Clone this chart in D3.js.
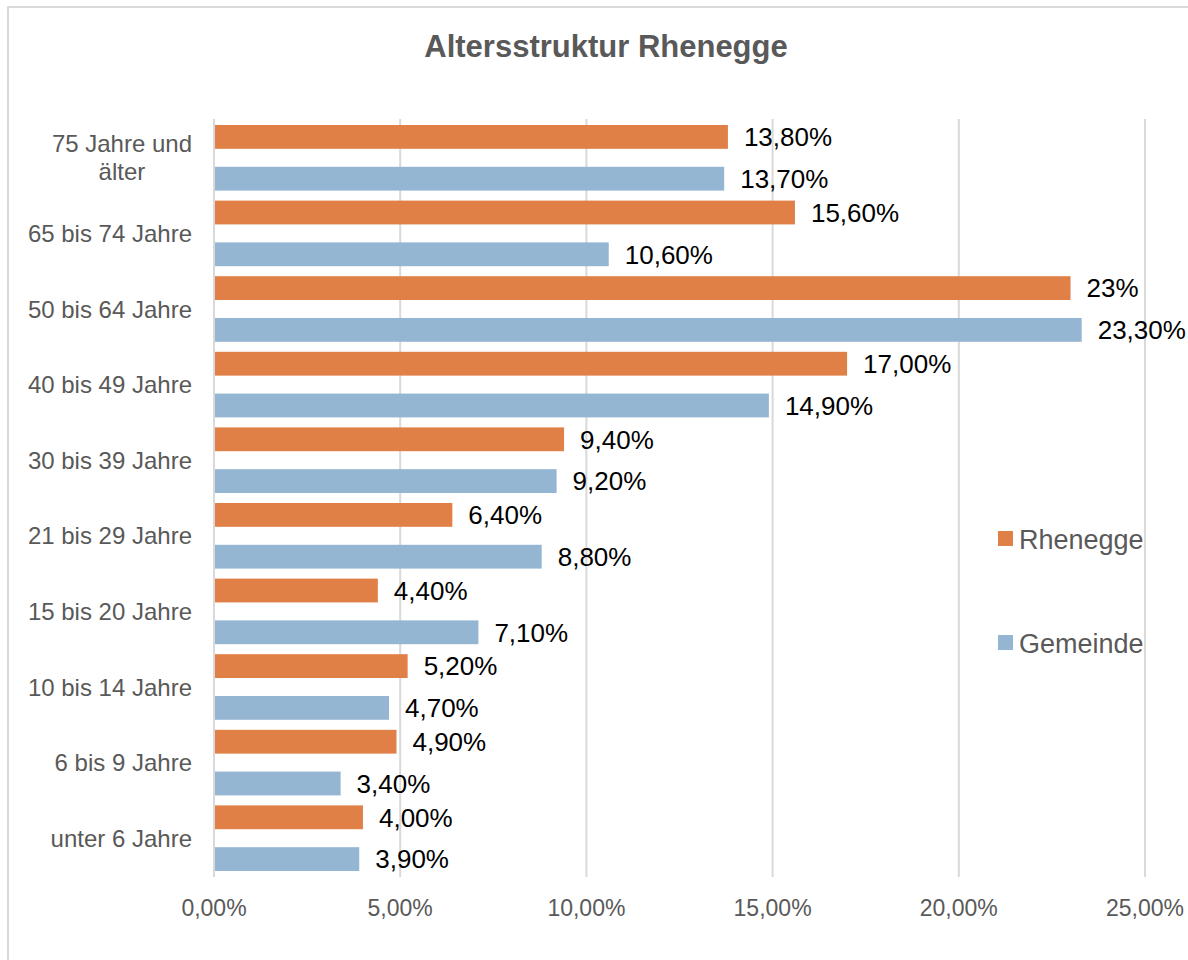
<!DOCTYPE html>
<html>
<head>
<meta charset="utf-8">
<script src="https://cdn.jsdelivr.net/npm/d3@7"></script>
<style>
  body { margin: 0; background: #fff; }
  svg { display: block; font-family: "Liberation Sans", Arial, sans-serif; }
</style>
</head>
<body>
<svg id="chart" width="1188" height="960"></svg>
<script>
// categories, top to bottom
const categories = ["75 Jahre und|älter", "65 bis 74 Jahre", "50 bis 64 Jahre", "40 bis 49 Jahre",
  "30 bis 39 Jahre", "21 bis 29 Jahre", "15 bis 20 Jahre", "10 bis 14 Jahre", "6 bis 9 Jahre", "unter 6 Jahre"];
const seriesNames = ["Rhenegge", "Gemeinde"];
const rhenegge = [13.8, 15.6, 23, 17.0, 9.4, 6.4, 4.4, 5.2, 4.9, 4.0];
const gemeinde = [13.7, 10.6, 23.3, 14.9, 9.2, 8.8, 7.1, 4.7, 3.4, 3.9];
const rheneggeLabels = ["13,80%", "15,60%", "23%", "17,00%", "9,40%", "6,40%", "4,40%", "5,20%", "4,90%", "4,00%"];
const gemeindeLabels = ["13,70%", "10,60%", "23,30%", "14,90%", "9,20%", "8,80%", "7,10%", "4,70%", "3,40%", "3,90%"];
const tickValues = [0, 5, 10, 15, 20, 25];
const tickLabels = ["0,00%", "5,00%", "10,00%", "15,00%", "20,00%", "25,00%"];
const colors = { Rhenegge: "#e08047", Gemeinde: "#94b6d3" };

const svg = d3.select("#chart");

// outer chart border
svg.append("rect")
  .attr("x", 8).attr("y", 7)
  .attr("width", 1300).attr("height", 1100)
  .attr("fill", "#fff")
  .attr("stroke", "#d9d9d9")
  .attr("stroke-width", 2);

svg.append("text")
  .attr("x", 606).attr("y", 57)
  .attr("text-anchor", "middle")
  .attr("font-size", 31)
  .attr("font-weight", "bold")
  .attr("fill", "#595959")
  .text("Altersstruktur Rhenegge");

const x = d3.scaleLinear().domain([0, 25]).range([214, 1145]);
const y = d3.scaleBand().domain(categories).range([120, 876]);
const ySub = d3.scaleBand().domain(seriesNames)
  .range([5, y.bandwidth() - 5])
  .paddingInner(0.43);

// gridlines
svg.append("g")
  .selectAll("line")
  .data(tickValues)
  .join("line")
  .attr("x1", d => x(d)).attr("x2", d => x(d))
  .attr("y1", 119).attr("y2", 877)
  .attr("stroke", "#d9d9d9")
  .attr("stroke-width", 2);

// tick labels
svg.append("g")
  .selectAll("text")
  .data(tickValues)
  .join("text")
  .attr("x", d => x(d))
  .attr("y", 916)
  .attr("text-anchor", "middle")
  .attr("font-size", 23)
  .attr("fill", "#595959")
  .text((d, i) => tickLabels[i]);

const rows = [];
categories.forEach((c, i) => {
  rows.push({ cat: c, series: "Rhenegge", value: rhenegge[i], label: rheneggeLabels[i] });
  rows.push({ cat: c, series: "Gemeinde", value: gemeinde[i], label: gemeindeLabels[i] });
});

svg.append("g")
  .selectAll("rect")
  .data(rows)
  .join("rect")
  .attr("x", x(0) + 1)
  .attr("y", d => y(d.cat) + ySub(d.series))
  .attr("width", d => x(d.value) - x(0) - 1)
  .attr("height", ySub.bandwidth())
  .attr("fill", d => colors[d.series]);

svg.append("g")
  .selectAll("text")
  .data(rows)
  .join("text")
  .attr("x", d => x(d.value) + 16)
  .attr("y", d => y(d.cat) + ySub(d.series) + ySub.bandwidth() / 2)
  .attr("dy", "0.36em")
  .attr("font-size", 26)
  .attr("fill", "#000")
  .text(d => d.label);

// category labels, wrapped lines centred on each other like Excel does
const catG = svg.append("g");
categories.forEach(c => {
  const lines = c.split("|");
  const cy = y(c) + y.bandwidth() / 2;
  const t = catG.append("text")
    .attr("font-size", 24)
    .attr("fill", "#595959")
    .attr("text-anchor", "middle");
  lines.forEach((ln, j) => {
    t.append("tspan")
      .attr("x", 0)
      .attr("y", cy + (j - (lines.length - 1) / 2) * 28)
      .attr("dy", "0.36em")
      .text(ln);
  });
  const w = t.node().getBBox().width;
  t.selectAll("tspan").attr("x", 192 - w / 2);
});

// legend
const legend = svg.append("g")
  .selectAll("g")
  .data(seriesNames)
  .join("g")
  .attr("transform", (d, i) => `translate(998, ${539 + i * 104})`);
legend.append("rect")
  .attr("x", 0).attr("y", -8)
  .attr("width", 15).attr("height", 15)
  .attr("fill", d => colors[d]);
legend.append("text")
  .attr("x", 21)
  .attr("dy", "0.36em")
  .attr("font-size", 27)
  .attr("fill", "#595959")
  .text(d => d);
</script>
</body>
</html>
